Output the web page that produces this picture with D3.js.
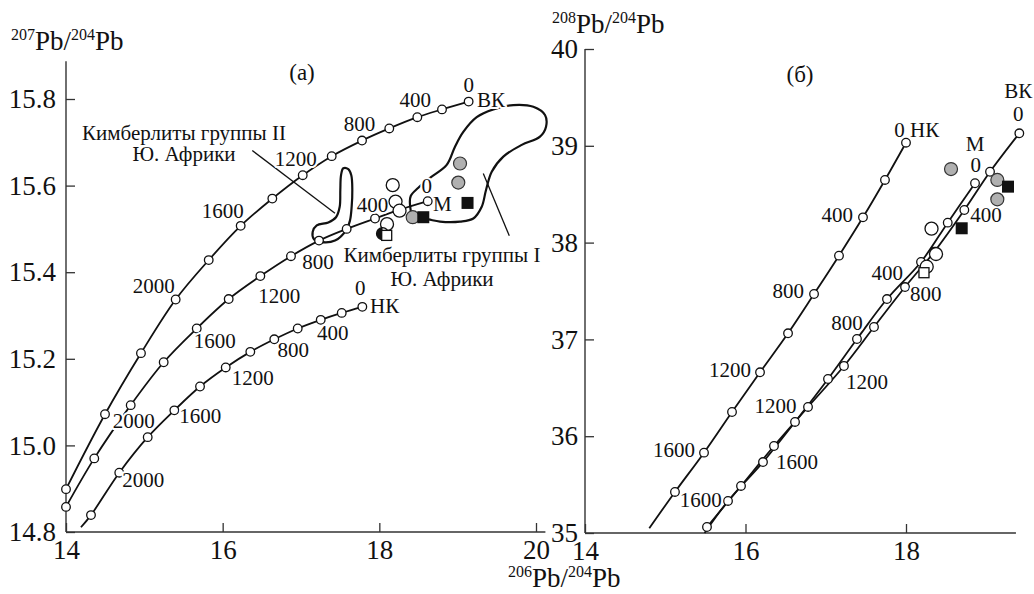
<!DOCTYPE html>
<html><head><meta charset="utf-8">
<script src="https://cdn.jsdelivr.net/npm/d3@7"></script>
<style>
body{margin:0;background:#fff;}
text{font-family:"Liberation Serif","Times New Roman",serif;fill:#111;}
</style></head><body>
<svg id="c" width="1034" height="594"></svg>
<script>
// ---------------- DATA ----------------
// Panel (a): 207Pb/204Pb vs 206Pb/204Pb ; model curves, points every 200 Ma
const ageBK_a = [0,200,400,600,800,1000,1200,1400,1600,1800,2000,2200,2400,2600];
const bk_a_x = [19.14,18.80,18.485,18.127,17.779,17.392,17.022,16.634,16.230,15.822,15.400,14.957,14.498,14.0];
const bk_a_y = [15.794,15.776,15.758,15.732,15.704,15.668,15.624,15.570,15.507,15.428,15.337,15.213,15.072,14.899];
const ageM_a = [0,200,400,600,800,1000,1200,1400,1600,1800,2000,2200,2400];
const m_a_x = [18.618,18.273,17.945,17.583,17.230,16.872,16.481,16.077,15.669,15.247,14.826,14.361,14.0];
const m_a_y = [15.564,15.545,15.524,15.500,15.473,15.437,15.391,15.338,15.270,15.192,15.093,14.970,14.858];
const ageNK_a = [0,200,400,600,800,1000,1200,1400,1600,1800,2000,2200];
const nk_a_x = [17.783,17.520,17.252,16.958,16.659,16.353,16.039,15.711,15.383,15.043,14.680,14.319];
const nk_a_y = [15.320,15.306,15.290,15.270,15.245,15.216,15.180,15.136,15.081,15.019,14.937,14.839];
const nk_a_tail = [14.191,14.811];

// sample points, panel (a)
const a_gray = [[19.030,15.651],[19.008,15.607],[18.426,15.527]];
const a_black = [[19.126,15.560],[18.561,15.527]];
const a_open = [[18.171,15.601],[18.207,15.563],[18.258,15.542],[18.098,15.511]];
const a_half = [[18.041,15.489]];
const a_opensq = [[18.094,15.485]];

// fields of South African kimberlites
const groupI = [[18.392,15.555],[18.401,15.576],[18.498,15.595],[18.647,15.618],[18.860,15.648],[18.966,15.690],
  [19.072,15.724],[19.243,15.758],[19.455,15.776],[19.710,15.786],[19.966,15.782],[20.115,15.763],[20.128,15.736],
  [20.051,15.713],[19.818,15.694],[19.583,15.667],[19.435,15.632],[19.362,15.590],[19.307,15.551],[19.200,15.524],
  [19.030,15.517],[18.775,15.517],[18.625,15.522],[18.434,15.528]];
const groupII = [[17.540,15.640],[17.604,15.638],[17.642,15.624],[17.655,15.590],[17.647,15.552],[17.626,15.520],
  [17.583,15.499],[17.434,15.473],[17.243,15.470],[17.166,15.476],[17.149,15.493],[17.201,15.508],[17.349,15.515],
  [17.447,15.527],[17.494,15.551],[17.502,15.590],[17.511,15.624]];
const leaderII = [[16.378,15.681],[17.434,15.536]];
const leaderI = [[19.327,15.628],[19.659,15.484]];

// Panel (б): 208Pb/204Pb vs 206Pb/204Pb
const ageNK_b = [0,200,400,600,800,1000,1200,1400,1600,1800];
const nk_b_x = [18.0,17.738,17.464,17.165,16.854,16.530,16.181,15.832,15.483,15.121];
const nk_b_y = [39.032,38.647,38.261,37.865,37.469,37.063,36.660,36.250,35.830,35.424];
const nk_b_tail = [14.801,35.049];
const ageBK_b = [0,200,400,600,800,1000,1200,1400,1600,1800,2000];
const bk_b_x = [19.412,19.047,18.727,18.353,17.988,17.601,17.227,16.779,16.355,15.944,15.520];
const bk_b_y = [39.129,38.732,38.337,37.906,37.541,37.128,36.725,36.302,35.899,35.486,35.062];
const ageM_b = [0,200,400,600,800,1000,1200,1400,1600];
const m_b_x = [18.860,18.520,18.187,17.763,17.389,17.028,16.617,16.218,15.782];
const m_b_y = [38.613,38.206,37.800,37.417,37.004,36.591,36.147,35.733,35.331];
const m_b_tail = [15.49,35.0];

const b_gray = [[18.561,38.760],[19.138,38.647],[19.138,38.447]];
const b_black = [[19.271,38.578],[18.694,38.148]];
const b_open = [[18.318,38.144],[18.374,37.882],[18.258,37.751]];
const b_opensq = [[18.224,37.689]];

// ticks
const xTicksA = [14,16,18,20];
const yTicksA = [14.8,15.0,15.2,15.4,15.6,15.8];
const xTicksB = [14,16,18];
const yTicksB = [35,36,37,38,39,40];

// ---------------- DRAW ----------------
const svg = d3.select("#c");
svg.append("rect").attr("width",1034).attr("height",594).attr("fill","#fff");

const xA = d3.scaleLinear().domain([14,20]).range([66,536]);
const yA = d3.scaleLinear().domain([14.8,15.8]).range([532,99]);
const xB = d3.scaleLinear().domain([14,18]).range([585,906]);
const yB = d3.scaleLinear().domain([35,40]).range([533,49]);

const INK = "#111";
const zip = (xs,ys)=>xs.map((x,i)=>[x,ys[i]]);

function axes(g, x, y, xt, yt, xEnd, yTop, fmtY, padY){
  g.append("line").attr("x1",x(xt[0])).attr("x2",x(xEnd)).attr("y1",y.range()[0]).attr("y2",y.range()[0])
    .attr("stroke","#333").attr("stroke-width",1.4);
  g.append("line").attr("x1",x.range()[0]).attr("x2",x.range()[0]).attr("y1",y.range()[0]).attr("y2",y(yTop))
    .attr("stroke","#333").attr("stroke-width",1.4);
  const ax = g.append("g").attr("transform",`translate(0,${y.range()[0]})`)
    .call(d3.axisBottom(x).tickValues(xt).tickSizeInner(-9).tickSizeOuter(0).tickPadding(8).tickFormat(d3.format("d")));
  const ay = g.append("g").attr("transform",`translate(${x.range()[0]},0)`)
    .call(d3.axisLeft(y).tickValues(yt).tickSizeInner(-9).tickSizeOuter(0).tickPadding(padY).tickFormat(fmtY));
  [ax,ay].forEach(a=>{
    a.attr("font-family",null);
    a.select(".domain").remove();
    a.selectAll(".tick line").attr("stroke","#333").attr("stroke-width",1.3);
    a.selectAll("text").attr("font-size",27).attr("fill",INK)
      .style("font-family","'Liberation Serif',serif");
  });
  return [ax,ay];
}

function curve(g, x, y, pts, tail){
  const all = tail ? pts.concat([tail]) : pts;
  g.append("path").attr("d", d3.line().x(d=>x(d[0])).y(d=>y(d[1])).curve(d3.curveCatmullRom)(all))
    .attr("fill","none").attr("stroke",INK).attr("stroke-width",1.8);
}
function nodes(g, x, y, pts){
  g.selectAll(null).data(pts).join("circle").attr("cx",d=>x(d[0])).attr("cy",d=>y(d[1])).attr("r",4.3)
    .attr("fill","#fff").attr("stroke",INK).attr("stroke-width",1.3);
}
function label(g, x, y, p, txt, dx, dy, anchor, size){
  g.append("text").attr("x",x(p[0])+dx).attr("y",y(p[1])+dy).attr("text-anchor",anchor||"middle")
    .attr("font-size",size||21).attr("stroke","#fff").attr("stroke-width",4).attr("paint-order","stroke")
    .attr("stroke-linejoin","round").text(txt);
}
function samples(g, x, y, gray, black, open, half, opensq){
  g.selectAll(null).data(open).join("circle").attr("cx",d=>x(d[0])).attr("cy",d=>y(d[1])).attr("r",6.5)
    .attr("fill","#fff").attr("stroke",INK).attr("stroke-width",1.3);
  g.selectAll(null).data(half).join("g").each(function(d){
    const cx=x(d[0]), cy=y(d[1]), r=6;
    const s=d3.select(this);
    s.append("circle").attr("cx",cx).attr("cy",cy).attr("r",r).attr("fill","#fff").attr("stroke",INK).attr("stroke-width",1.3);
    s.append("path").attr("d",`M${cx},${cy-r}A${r},${r} 0 0 0 ${cx},${cy+r}Z`).attr("fill",INK);
  });
  g.selectAll(null).data(opensq).join("rect").attr("x",d=>x(d[0])-5).attr("y",d=>y(d[1])-5).attr("width",10).attr("height",10)
    .attr("fill","#fff").attr("stroke",INK).attr("stroke-width",1.3);
  g.selectAll(null).data(gray).join("circle").attr("cx",d=>x(d[0])).attr("cy",d=>y(d[1])).attr("r",6.5)
    .attr("fill","#b0b0b0").attr("stroke","#333").attr("stroke-width",1.2);
  g.selectAll(null).data(black).join("rect").attr("x",d=>x(d[0])-6).attr("y",d=>y(d[1])-6).attr("width",12).attr("height",12)
    .attr("fill",INK);
}
function title(g, px, py, a, b){
  const t = g.append("text").attr("x",px).attr("y",py).attr("font-size",27);
  t.append("tspan").attr("font-size",16).attr("dy",-10).text(a);
  t.append("tspan").attr("dy",10).text("Pb/");
  t.append("tspan").attr("font-size",16).attr("dy",-10).text(b);
  t.append("tspan").attr("dy",10).text("Pb");
}

// ---- panel (a)
const gA = svg.append("g");
axes(gA, xA, yA, xTicksA, yTicksA, 20.12, 15.887, d3.format(".1f"), 10);
const lf = d3.line().x(d=>xA(d[0])).y(d=>yA(d[1])).curve(d3.curveCatmullRomClosed);
gA.append("path").attr("d",lf(groupI)).attr("fill","none").attr("stroke",INK).attr("stroke-width",2.2);
gA.append("path").attr("d",lf(groupII)).attr("fill","none").attr("stroke",INK).attr("stroke-width",2.2);
[leaderI,leaderII].forEach(l=>gA.append("line").attr("x1",xA(l[0][0])).attr("y1",yA(l[0][1]))
  .attr("x2",xA(l[1][0])).attr("y2",yA(l[1][1])).attr("stroke",INK).attr("stroke-width",1.3));

const BKa = zip(bk_a_x,bk_a_y), Ma = zip(m_a_x,m_a_y), NKa = zip(nk_a_x,nk_a_y);
curve(gA,xA,yA,BKa); curve(gA,xA,yA,Ma); curve(gA,xA,yA,NKa,nk_a_tail);
nodes(gA,xA,yA,BKa); nodes(gA,xA,yA,Ma); nodes(gA,xA,yA,NKa);

const ptA = (arr,ages,age)=>arr[ages.indexOf(age)];
// labels (a)
[[0,0,-10,"middle"],[400,-2,-10,"middle"],[800,-2.5,-10,"middle"],[1200,-7,-9,"middle"],[1600,-18,-8,"middle"],[2000,-22,-6,"middle"]]
  .forEach(l=>label(gA,xA,yA,ptA(BKa,ageBK_a,l[0]),String(l[0]),l[1],l[2],l[3]));
label(gA,xA,yA,BKa[0],"ВК",8.4,5.3,"start");
[[0,-1,-8],[400,-2.5,-6.6],[800,-1,28],[1200,19,27],[1600,18,20],[2000,3,23]]
  .forEach(l=>label(gA,xA,yA,ptA(Ma,ageM_a,l[0]),String(l[0]),l[1],l[2],"middle"));
label(gA,xA,yA,Ma[0],"М",5.3,9.7,"start");
[[0,-2,-12],[400,12,20],[800,19,17.4],[1200,27,18],[1600,26,13],[2000,24,14]]
  .forEach(l=>label(gA,xA,yA,ptA(NKa,ageNK_a,l[0]),String(l[0]),l[1],l[2],"middle"));
label(gA,xA,yA,NKa[0],"НК",7.7,6.6,"start");

samples(gA,xA,yA,a_gray,a_black,a_open,a_half,a_opensq);

gA.append("text").attr("x",184).attr("y",140).attr("text-anchor","middle").attr("font-size",21).text("Кимберлиты группы II");
gA.append("text").attr("x",184).attr("y",161).attr("text-anchor","middle").attr("font-size",21).text("Ю. Африки");
gA.append("text").attr("x",442).attr("y",262).attr("text-anchor","middle").attr("font-size",21)
  .attr("stroke","#fff").attr("stroke-width",3).attr("paint-order","stroke").text("Кимберлиты группы I");
gA.append("text").attr("x",442).attr("y",286).attr("text-anchor","middle").attr("font-size",21).text("Ю. Африки");
gA.append("text").attr("x",302).attr("y",80).attr("text-anchor","middle").attr("font-size",23).text("(а)");
title(gA,11,50,"207","204");

// ---- panel (б)
const gB = svg.append("g");
axes(gB, xB, yB, xTicksB, yTicksB, 19.37, 40, d3.format("d"), 7);
const NKb = zip(nk_b_x,nk_b_y), BKb = zip(bk_b_x,bk_b_y), Mb = zip(m_b_x,m_b_y);
curve(gB,xB,yB,NKb,nk_b_tail); curve(gB,xB,yB,BKb); curve(gB,xB,yB,Mb,m_b_tail);
nodes(gB,xB,yB,NKb); nodes(gB,xB,yB,BKb); nodes(gB,xB,yB,Mb);

label(gB,xB,yB,NKb[0],"0",-6.5,-5.3,"middle");
label(gB,xB,yB,NKb[0],"НК",4,-5.3,"start");
[[400,-10,4.4],[800,-10,4],[1200,-9,4.4],[1600,-9,4]]
  .forEach(l=>label(gB,xB,yB,ptA(NKb,ageNK_b,l[0]),String(l[0]),l[1],l[2],"end"));
label(gB,xB,yB,BKb[0],"0",-1,-12,"middle");
label(gB,xB,yB,BKb[0],"ВК",-1,-35,"middle");
[[400,6,11.7],[800,5,13.7],[1200,2,23],[1600,2,23]]
  .forEach(l=>label(gB,xB,yB,ptA(BKb,ageBK_b,l[0]),String(l[0]),l[1],l[2],"start"));
label(gB,xB,yB,Mb[0],"0",0.7,-11,"middle");
label(gB,xB,yB,Mb[0],"М",0,-32,"middle");
label(gB,xB,yB,ptA(Mb,ageM_b,400),"400",-18,18,"end");
label(gB,xB,yB,ptA(Mb,ageM_b,800),"800",-10,-9,"middle");
label(gB,xB,yB,ptA(Mb,ageM_b,1200),"1200",-19.5,-9,"middle");
label(gB,xB,yB,ptA(Mb,ageM_b,1600),"1600",-6.3,5.7,"end");

samples(gB,xB,yB,b_gray,b_black,b_open,[],b_opensq);
gB.append("text").attr("x",800).attr("y",82).attr("text-anchor","middle").attr("font-size",23).text("(б)");
title(gB,552,33,"208","204");

// x title
title(svg,508,587,"206","204");
</script>
</body></html>
